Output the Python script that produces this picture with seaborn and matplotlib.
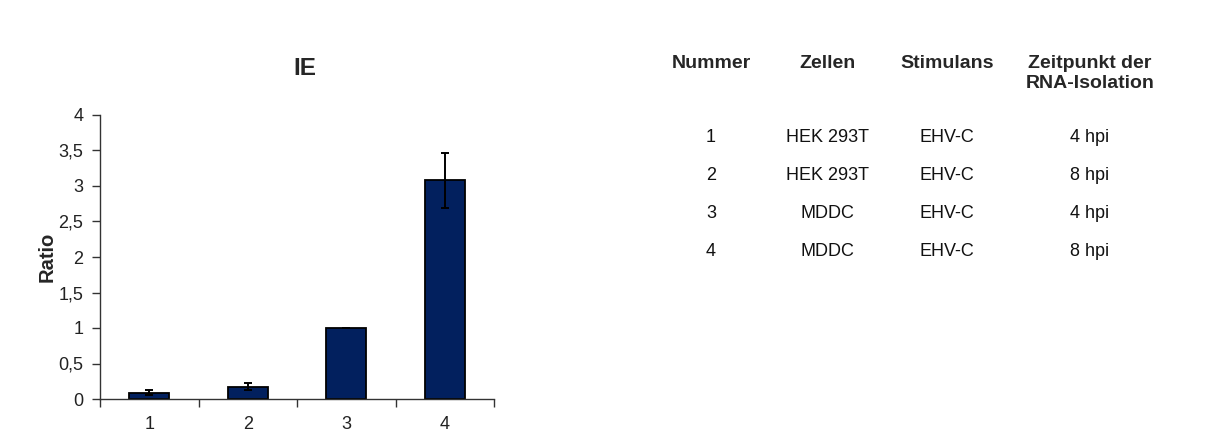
import matplotlib
matplotlib.use("Agg")
import matplotlib.pyplot as plt
import seaborn as sns
import pandas as pd
from matplotlib.ticker import FixedLocator, FuncFormatter

# Expression of IE, ratio per sample
nummer = ["1", "2", "3", "4"]
ratio = [0.09, 0.17, 1.00, 3.08]
ratio_err = [0.035, 0.05, 0.0, 0.39]

# Sample description table
zellen = ["HEK 293T", "HEK 293T", "MDDC", "MDDC"]
stimulans = ["EHV-C", "EHV-C", "EHV-C", "EHV-C"]
zeitpunkt = ["4 hpi", "8 hpi", "4 hpi", "8 hpi"]
header = ["Nummer", "Zellen", "Stimulans", "Zeitpunkt der\nRNA-Isolation"]

sns.set_style("white")
plt.rcParams["font.family"] = ["Liberation Sans", "DejaVu Sans"]

W, H = 1218, 434
fig = plt.figure(figsize=(W / 100, H / 100), dpi=100)
ax = fig.add_axes([100 / W, (H - 399) / H, (494 - 100) / W, (399 - 115) / H])

df = pd.DataFrame({"Nummer": nummer, "Ratio": ratio})
sns.barplot(data=df, x="Nummer", y="Ratio", color="#02205e", saturation=1,
            width=0.405, edgecolor="black", linewidth=1.3, errorbar=None, ax=ax)
ax.errorbar(range(len(nummer)), ratio, yerr=ratio_err, fmt="none",
            ecolor="black", elinewidth=1.4, capsize=3, capthick=1.4)

ax.set_xlim(-0.5, len(nummer) - 0.5)
ax.set_ylim(0, 4)
ax.yaxis.set_major_locator(FixedLocator([0, 0.5, 1, 1.5, 2, 2.5, 3, 3.5, 4]))
ax.yaxis.set_major_formatter(FuncFormatter(lambda v, p: f"{v:g}".replace(".", ",")))
ax.set_xlabel("")
ax.set_ylabel("Ratio", fontsize=14.5, fontweight="bold", labelpad=1)
ax.set_title("IE", fontsize=17.5, fontweight="bold", pad=29, x=0.52)

# Category boundaries carry the x tick marks
ax.set_xticks(range(len(nummer)))
ax.set_xticklabels(nummer)
ax.xaxis.set_minor_locator(FixedLocator([-0.5, 0.5, 1.5, 2.5, 3.5]))
ax.tick_params(axis="x", which="major", bottom=True, length=0, pad=12,
               labelsize=13, labelcolor="#222222")
ax.tick_params(axis="x", which="minor", bottom=True, length=6, width=1,
               color="#333333", direction="out")
ax.tick_params(axis="y", which="major", left=True, length=6, width=1, color="#333333",
               direction="out", labelsize=13, labelcolor="#222222", pad=6)
for side in ["top", "right"]:
    ax.spines[side].set_visible(False)
for side in ["left", "bottom"]:
    ax.spines[side].set_color("#333333")
    ax.spines[side].set_linewidth(1)

# Sample table on the right
col_x = [711, 827, 947, 1090]
for x, h in zip(col_x, header):
    fig.text(x / W, 1 - 55 / H, h, ha="center", va="top", fontsize=14,
             fontweight="bold", linespacing=1.25)
row_y = [137, 175, 213, 251]
for i, y in enumerate(row_y):
    for x, val in zip(col_x, [nummer[i], zellen[i], stimulans[i], zeitpunkt[i]]):
        fig.text(x / W, 1 - y / H, val, ha="center", va="center", fontsize=13,
                 color="#111111")

fig.savefig("out.png", dpi=100)
